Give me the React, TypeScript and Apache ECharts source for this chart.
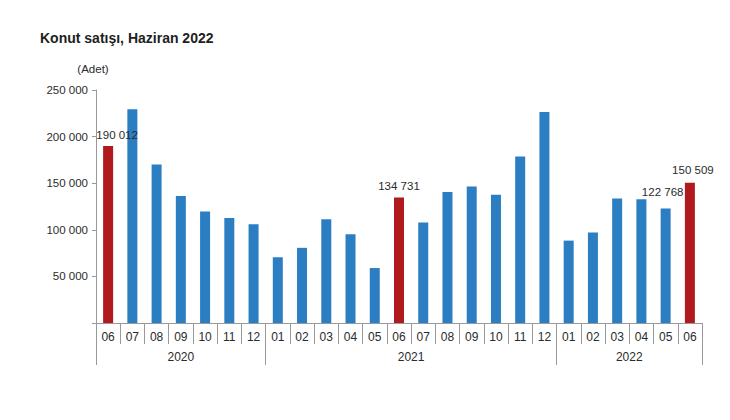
import React, { useEffect, useRef } from 'react';
import * as echarts from 'echarts';

// Monthly house sales, June 2020 - June 2022
const months = [
  '06', '07', '08', '09', '10', '11', '12',
  '01', '02', '03', '04', '05', '06', '07', '08', '09', '10', '11', '12',
  '01', '02', '03', '04', '05', '06',
];
const sales = [
  190012, 229357, 170026, 136372, 119605, 112766, 105869,
  70546, 80660, 111358, 95148, 58959, 134731, 107880, 140661, 146574, 137524, 178591, 226419,
  88384, 97185, 133645, 132767, 122768, 150509,
];
const years = ['2020', '2021', '2022'];
const monthsPerYear = [7, 12, 6];
// indices of bars drawn in red and of bars carrying a value label
const highlighted = [0, 12, 24];
const labelled = [0, 12, 23, 24];

const FONT = '"Liberation Sans", Arial, sans-serif';
const BLUE = '#2a7ec1';
const RED = '#b0191e';
const TEXT = '#2b2b2b';
const AXIS = '#999';

const fmt = (v: number) => String(Math.round(v)).replace(/\B(?=(\d{3})+(?!\d))/g, ' ');

const labelOffsets: Record<number, number[]> = {
  0: [9, 0],
  12: [0, 0],
  23: [-3, -6],
  24: [3, -2],
};

const App: React.FC = () => {
  const chartRef = useRef<HTMLDivElement>(null);

  useEffect(() => {
    document.body.style.margin = '0';
    if (!chartRef.current) return;
    const chart = echarts.init(chartRef.current, null, { renderer: 'svg' });

    // year axis: half-month slots so that boundaries and centres fall on points
    const slots = months.length * 2 + 1;
    const yearAxisData: string[] = new Array(slots).fill('');
    const boundaries: number[] = [0];
    let acc = 0;
    years.forEach((y, i) => {
      yearAxisData[acc * 2 + monthsPerYear[i]] = y;
      acc += monthsPerYear[i];
      boundaries.push(acc * 2);
    });

    const barData = sales.map((v, i) => ({
      value: v,
      itemStyle: { color: highlighted.includes(i) ? RED : BLUE },
      label: labelled.includes(i)
        ? {
            show: true,
            position: 'top' as const,
            offset: labelOffsets[i],
            formatter: (p: any) => fmt(p.value),
            color: TEXT,
            fontSize: 11.5,
            fontFamily: FONT,
          }
        : { show: false },
    }));

    const option: echarts.EChartsOption = {
      animation: false,
      backgroundColor: '#fff',
      title: {
        text: 'Konut satışı, Haziran 2022',
        left: 40,
        top: 31,
        padding: 0,
        textStyle: { fontSize: 14, fontWeight: 'bold', color: '#1e1e1e', fontFamily: FONT },
      },
      grid: { left: 96, right: 28, top: 90, bottom: 97 },
      xAxis: [
        {
          type: 'category',
          data: months,
          position: 'bottom',
          axisLine: { show: true, lineStyle: { color: AXIS, width: 1 } },
          axisTick: { show: true, interval: 0, length: 21, lineStyle: { color: AXIS } },
          axisLabel: { interval: 0, margin: 8, color: TEXT, fontSize: 12, fontFamily: FONT },
          splitLine: { show: false },
        },
        {
          type: 'category',
          data: yearAxisData,
          position: 'bottom',
          boundaryGap: false,
          axisLine: { show: false },
          axisTick: {
            show: true,
            length: 42,
            interval: (index: number) => boundaries.includes(index),
            lineStyle: { color: AXIS },
          },
          axisLabel: { interval: 0, margin: 28, color: TEXT, fontSize: 12, fontFamily: FONT },
          splitLine: { show: false },
        },
      ],
      yAxis: {
        type: 'value',
        min: 0,
        max: 250000,
        interval: 50000,
        name: '(Adet)',
        nameLocation: 'end',
        nameGap: 15,
        nameTextStyle: { color: TEXT, fontSize: 11.5, fontFamily: FONT, padding: [0, 6, 0, 0] },
        axisLine: { show: true, lineStyle: { color: AXIS, width: 1 } },
        axisTick: { show: true, length: 4, lineStyle: { color: AXIS } },
        axisLabel: {
          color: TEXT,
          fontSize: 11.5,
          fontFamily: FONT,
          margin: 8,
          formatter: (v: number) => (v === 0 ? '' : fmt(v)),
        },
        splitLine: { show: false },
      },
      series: [
        {
          type: 'bar',
          xAxisIndex: 0,
          barWidth: 10,
          data: barData,
        },
      ],
    };

    chart.setOption(option);
    return () => {
      chart.dispose();
    };
  }, []);

  return <div ref={chartRef} style={{ width: 730, height: 420 }} />;
};

export default App;
